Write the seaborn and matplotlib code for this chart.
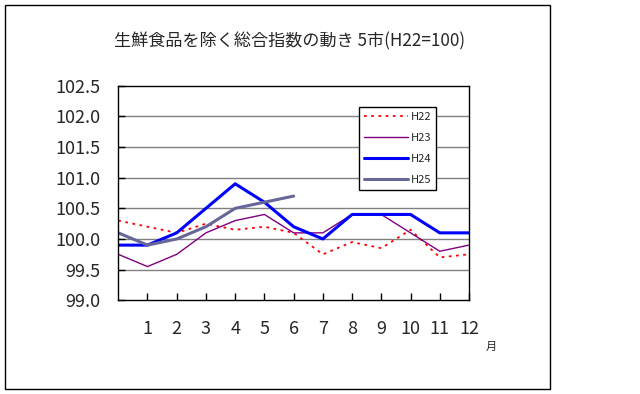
import matplotlib
matplotlib.use("Agg")
import matplotlib.pyplot as plt
import matplotlib.patches as patches
import numpy as np
import pandas as pd
import seaborn as sns

# data (position 0 = previous December)
months = list(range(13))
month_labels = [str(m) for m in range(1, 13)]
h22 = [100.3, 100.2, 100.1, 100.25, 100.15, 100.2, 100.1, 99.75, 99.95, 99.85, 100.15, 99.7, 99.75]
h23 = [99.75, 99.55, 99.75, 100.1, 100.3, 100.4, 100.1, 100.1, 100.4, 100.4, 100.1, 99.8, 99.9]
h24 = [99.9, 99.9, 100.1, 100.5, 100.9, 100.6, 100.2, 100.0, 100.4, 100.4, 100.4, 100.1, 100.1]
h25 = [100.1, 99.9, 100.0, 100.2, 100.5, 100.6, 100.7]
y_ticks = np.arange(99.0, 102.51, 0.5)

sns.set_style("white")
plt.rcParams['font.family'] = ['Noto Sans CJK JP', 'DejaVu Sans']

fig = plt.figure(figsize=(6.4, 3.94), dpi=100)
ax = fig.add_axes([0.1848, 0.2378, 0.548, 0.5447])

series = [
    ("H22", h22, "#FF0000", 1.3, (0, (1.5, 2.5))),
    ("H23", h23, "#800080", 1.0, "-"),
    ("H24", h24, "#0000FF", 2.2, "-"),
    ("H25", h25, "#666699", 2.2, "-"),
]
for name, vals, color, lw, ls in series:
    df = pd.DataFrame({"month": months[:len(vals)], "value": vals})
    sns.lineplot(data=df, x="month", y="value", ax=ax, color=color,
                 linewidth=lw, linestyle=ls, label=name)

ax.set_xlim(0, 12)
ax.set_ylim(99.0, 102.5)
ax.set_xticks(range(1, 13))
ax.set_xticklabels(month_labels)
ax.set_yticks(y_ticks)
ax.set_yticklabels([f"{v:.1f}" for v in y_ticks])
ax.set_xlabel("")
ax.set_ylabel("")

for v in y_ticks[1:-1]:
    ax.axhline(v, color="#808080", linewidth=1, zorder=0)

for s in ax.spines.values():
    s.set_color("black")
    s.set_linewidth(1)

ax.tick_params(axis="x", direction="in", length=5, width=1, color="black",
               pad=14, labelsize=13, bottom=True)
ax.tick_params(axis="y", direction="in", length=5, width=1, color="black",
               pad=13, labelsize=13, left=True)

leg = ax.legend(loc="upper left", bbox_to_anchor=(0.686, 0.9007),
                fontsize=8, frameon=True, fancybox=False, framealpha=1,
                edgecolor="black", handlelength=4, handletextpad=0.2,
                labelspacing=1.0, borderpad=0.45, borderaxespad=0)
leg.get_frame().set_linewidth(1)

fig.text(0.453, 1 - 41 / 394, "生鮮食品を除く総合指数の動き 5市(H22=100)",
         ha="center", va="center", fontsize=12.3)
fig.text(491 / 640, 1 - 347 / 394, "月", ha="center", va="center", fontsize=8)

fig.patches.append(patches.Rectangle((5 / 640, 1 - 389 / 394), 545 / 640, 384 / 394,
                                     transform=fig.transFigure, fill=False,
                                     edgecolor="black", linewidth=1))

fig.savefig("out.png", dpi=100)
